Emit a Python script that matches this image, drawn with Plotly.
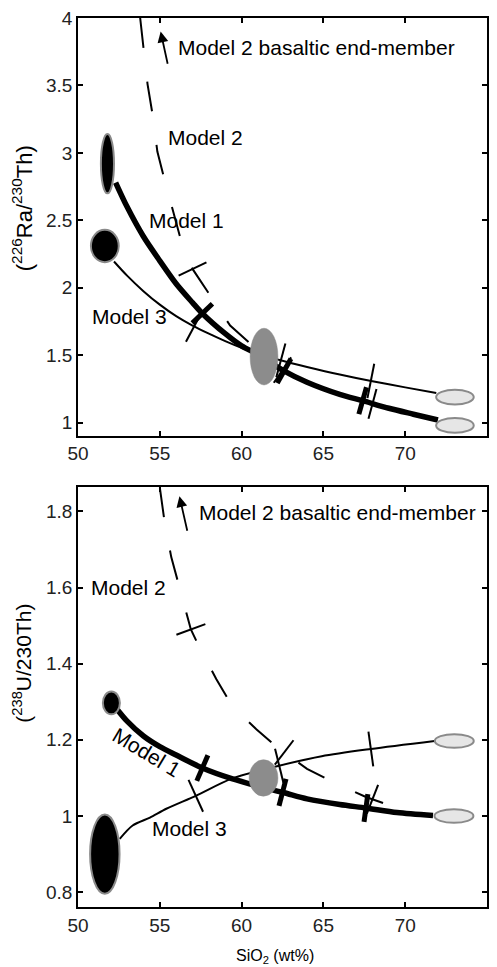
import numpy as np
import plotly.graph_objects as go

# ---------------- data ----------------
# Top panel: (226Ra/230Th) vs SiO2
ra_m1_x = [52.3, 53.0, 54.0, 55.0, 56.0, 57.0, 57.6, 59.0, 60.0, 61.0, 62.5, 64.0, 66.0, 67.4, 69.0, 70.5, 72.0]
ra_m1_y = [2.78, 2.60, 2.38, 2.20, 2.03, 1.89, 1.81, 1.66, 1.57, 1.505, 1.39, 1.30, 1.21, 1.163, 1.107, 1.063, 1.02]
ra_m3_x = [52.2, 53.0, 54.0, 55.0, 56.0, 57.0, 58.0, 59.0, 60.0, 61.0, 62.0, 63.0, 64.0, 66.0, 68.0, 70.0, 71.9]
ra_m3_y = [2.195, 2.09, 1.975, 1.875, 1.79, 1.72, 1.66, 1.605, 1.555, 1.51, 1.475, 1.443, 1.413, 1.357, 1.307, 1.262, 1.22]
ra_m2_x = [53.8, 54.25, 54.55, 54.85, 55.25, 55.8, 56.3, 57.0, 58.1, 59.3, 60.5, 61.4, 62.5, 64.0, 66.0, 68.0, 70.0, 72.0]
ra_m2_y = [4.0, 3.51, 3.29, 3.01, 2.82, 2.57, 2.35, 2.14, 1.94, 1.72, 1.59, 1.50, 1.39, 1.30, 1.21, 1.14, 1.08, 1.02]
ra_m1_ticks = [57.6, 62.6, 67.4]
ra_m3_ticks = [57.1, 62.4, 67.9]
ra_m2_ticks = [57.0, 62.5, 68.0]

# Top panel end-members (x, y, half-width, half-height)
ra_ell_x = [51.8, 51.64, 61.37, 73.04, 73.04]
ra_ell_y = [2.92, 2.31, 1.49, 1.19, 0.98]
ra_ell_w = [0.40, 0.85, 0.85, 1.15, 1.15]
ra_ell_h = [0.22, 0.12, 0.21, 0.055, 0.055]
ra_ell_kind = ["basalt", "basalt", "mid", "rhyolite", "rhyolite"]

# Bottom panel: (238U/230Th) vs SiO2
u_m1_x = [52.3, 53.0, 54.0, 55.0, 56.0, 57.6, 59.4, 61.3, 62.6, 64.0, 66.0, 67.6, 69.5, 71.7]
u_m1_y = [1.285, 1.249, 1.21, 1.182, 1.16, 1.126, 1.098, 1.075, 1.061, 1.045, 1.03, 1.021, 1.009, 1.001]
u_m3_x = [52.55, 53.34, 54.4, 55.4, 57.2, 59.4, 62.1, 64.9, 67.9, 71.8]
u_m3_y = [0.94, 0.975, 0.996, 1.019, 1.053, 1.098, 1.13, 1.157, 1.176, 1.197]
u_m2_x = [55.0, 55.3, 55.7, 56.2, 56.9, 57.4, 58.45, 59.4, 60.9, 62.3, 64.0, 65.8, 67.6, 69.45]
u_m2_y = [1.863, 1.77, 1.68, 1.60, 1.49, 1.445, 1.36, 1.29, 1.228, 1.176, 1.124, 1.085, 1.05, 1.022]
u_m1_ticks = [57.6, 62.5, 67.6]
u_m3_ticks = [57.2, 62.3, 67.9]
u_m2_ticks = [56.9, 62.6, 68.0]

u_ell_x = [52.04, 51.64, 61.34, 73.0, 72.98]
u_ell_y = [1.297, 0.90, 1.10, 1.197, 1.0]
u_ell_w = [0.52, 0.90, 0.88, 1.19, 1.19]
u_ell_h = [0.03, 0.104, 0.048, 0.018, 0.018]
u_ell_kind = ["basalt", "basalt", "mid", "rhyolite", "rhyolite"]

x_ticks = [50, 55, 60, 65, 70, 75]
ra_ticks = [1, 1.5, 2, 2.5, 3, 3.5, 4]
ra_ticktext = ["1", "1.5", "2", "2.5", "3", "3.5", "4"]
u_ticks = [0.8, 1.0, 1.2, 1.4, 1.6, 1.8]
u_ticktext = ["0.8", "1", "1.2", "1.4", "1.6", "1.8"]

# ---------------- figure ----------------
W, H = 497, 967
ML, MR, MT, MB = 78, 8, 13, 60
XR = [50, 75]
RA_R = [0.904, 4.0]
U_R = [0.761, 1.863]
top_dom = [0.5302, 1.0]
bot_dom = [0.0, 0.4720]
plot_w = W - ML - MR
plot_h = H - MT - MB
xpx = plot_w / (XR[1] - XR[0])
ra_ypx = plot_h * (top_dom[1] - top_dom[0]) / (RA_R[1] - RA_R[0])
u_ypx = plot_h * (bot_dom[1] - bot_dom[0]) / (U_R[1] - U_R[0])

FONT = "Liberation Sans, Arial, Helvetica, sans-serif"


def tick_angles(cx, cy, tx, ypx):
    cx = np.asarray(cx, float)
    cy = np.asarray(cy, float)
    slope = np.interp(tx, cx, np.gradient(cy, cx))
    return list(np.degrees(np.arctan(-slope * ypx / xpx)))


fig = go.Figure()


def add_panel(xa, ya, m1x, m1y, m3x, m3y, m2x, m2y, t1, t3, t2, ypx):
    fig.add_trace(go.Scatter(x=m2x, y=m2y, mode="lines", xaxis=xa, yaxis=ya,
                             line=dict(color="black", width=2, dash="30px,34px"),
                             showlegend=False, hoverinfo="skip"))
    fig.add_trace(go.Scatter(x=m3x, y=m3y, mode="lines", xaxis=xa, yaxis=ya,
                             line=dict(color="black", width=2, shape="spline", smoothing=0.8),
                             showlegend=False, hoverinfo="skip"))
    fig.add_trace(go.Scatter(x=m1x, y=m1y, mode="lines", xaxis=xa, yaxis=ya,
                             line=dict(color="black", width=5.5, shape="spline", smoothing=0.8),
                             showlegend=False, hoverinfo="skip"))
    for cx, cy, tx, size, lw in [(m1x, m1y, t1, 20, 5), (m3x, m3y, t3, 25, 2), (m2x, m2y, t2, 22, 2)]:
        ty = list(np.interp(tx, cx, cy))
        fig.add_trace(go.Scatter(x=tx, y=ty, mode="markers", xaxis=xa, yaxis=ya,
                                 marker=dict(symbol="line-ns", size=size,
                                             angle=tick_angles(cx, cy, tx, ypx),
                                             line=dict(color="black", width=lw)),
                                 showlegend=False, hoverinfo="skip"))


add_panel("x", "y", ra_m1_x, ra_m1_y, ra_m3_x, ra_m3_y, ra_m2_x, ra_m2_y,
          ra_m1_ticks, ra_m3_ticks, ra_m2_ticks, ra_ypx)
add_panel("x2", "y2", u_m1_x, u_m1_y, u_m3_x, u_m3_y, u_m2_x, u_m2_y,
          u_m1_ticks, u_m3_ticks, u_m2_ticks, u_ypx)

styles = {
    "basalt": dict(fillcolor="black", line=dict(color="#8a8a8a", width=2)),
    "mid": dict(fillcolor="#8c8c8c", line=dict(color="#8c8c8c", width=0.5)),
    "rhyolite": dict(fillcolor="#e6e6e6", line=dict(color="#8a8a8a", width=2)),
}
for xr, yr, ex, ey, ew, eh, ek in [("x", "y", ra_ell_x, ra_ell_y, ra_ell_w, ra_ell_h, ra_ell_kind),
                                    ("x2", "y2", u_ell_x, u_ell_y, u_ell_w, u_ell_h, u_ell_kind)]:
    for cx, cy, w, h, k in zip(ex, ey, ew, eh, ek):
        fig.add_shape(type="circle", xref=xr, yref=yr, x0=cx - w, x1=cx + w,
                      y0=cy - h, y1=cy + h, layer="above", **styles[k])

lab = dict(size=21, color="black", family=FONT)
ann = []
# top panel labels
ann.append(dict(x=55.96, y=3.78, xref="x", yref="y", text="Model 2 basaltic end-member",
                showarrow=False, xanchor="left", yanchor="middle", font=lab))
ann.append(dict(x=55.35, y=3.115, xref="x", yref="y", text="Model 2",
                showarrow=False, xanchor="left", yanchor="middle", font=lab))
ann.append(dict(x=54.2, y=2.50, xref="x", yref="y", text="Model 1",
                showarrow=False, xanchor="left", yanchor="middle", font=lab))
ann.append(dict(x=50.73, y=1.79, xref="x", yref="y", text="Model 3",
                showarrow=False, xanchor="left", yanchor="middle", font=lab))
ann.append(dict(x=55.05, y=3.90, ax=55.5, ay=3.65, xref="x", yref="y", axref="x", ayref="y",
                text="", showarrow=True, arrowhead=2, arrowsize=1.2, arrowwidth=1.8, arrowcolor="black"))
# bottom panel labels
ann.append(dict(x=57.3, y=1.797, xref="x2", yref="y2", text="Model 2 basaltic end-member",
                showarrow=False, xanchor="left", yanchor="middle", font=lab))
ann.append(dict(x=50.67, y=1.60, xref="x2", yref="y2", text="Model 2",
                showarrow=False, xanchor="left", yanchor="middle", font=lab))
ann.append(dict(x=54.2, y=1.166, xref="x2", yref="y2", text="Model 1", textangle=31,
                showarrow=False, xanchor="center", yanchor="middle", font=lab))
ann.append(dict(x=54.38, y=0.967, xref="x2", yref="y2", text="Model 3",
                showarrow=False, xanchor="left", yanchor="middle", font=lab))
ann.append(dict(x=56.2, y=1.84, ax=56.7, ay=1.745, xref="x2", yref="y2", axref="x2", ayref="y2",
                text="", showarrow=True, arrowhead=2, arrowsize=1.2, arrowwidth=1.8, arrowcolor="black"))
# axis titles
ann.append(dict(x=(22 - ML) / plot_w, y=(H - MB - 204) / plot_h, xref="paper", yref="paper",
                text="(<sup>226</sup>Ra/<sup>230</sup>Th)", textangle=-90, showarrow=False,
                xanchor="center", yanchor="middle", font=dict(size=22, color="black", family=FONT)))
ann.append(dict(x=(22 - ML) / plot_w, y=(H - MB - 662) / plot_h, xref="paper", yref="paper",
                text="(<sup>238</sup>U/230Th)", textangle=-90, showarrow=False,
                xanchor="center", yanchor="middle", font=dict(size=21, color="black", family=FONT)))
ann.append(dict(x=(276 - ML) / plot_w, y=(H - MB - 957) / plot_h, xref="paper", yref="paper",
                text="SiO<sub>2</sub> (wt%)", showarrow=False,
                xanchor="center", yanchor="middle", font=dict(size=16, color="black", family=FONT)))

axis_common = dict(showline=True, linecolor="black", linewidth=1.5, mirror="ticks",
                   ticks="inside", ticklen=5, tickwidth=1.5, tickcolor="black",
                   showgrid=False, zeroline=False,
                   tickfont=dict(size=19, color="#222", family=FONT))

fig.update_layout(
    width=W, height=H,
    margin=dict(l=ML, r=MR, t=MT, b=MB),
    paper_bgcolor="white", plot_bgcolor="white",
    showlegend=False,
    xaxis=dict(domain=[0, 1], range=XR, tickvals=x_ticks, anchor="y", **axis_common),
    yaxis=dict(domain=top_dom, range=RA_R, tickvals=ra_ticks, ticktext=ra_ticktext,
               anchor="x", **axis_common),
    xaxis2=dict(domain=[0, 1], range=XR, tickvals=x_ticks, anchor="y2", **axis_common),
    yaxis2=dict(domain=bot_dom, range=U_R, tickvals=u_ticks, ticktext=u_ticktext,
                anchor="x2", **axis_common),
    annotations=ann,
)

fig.write_html("out.html")
